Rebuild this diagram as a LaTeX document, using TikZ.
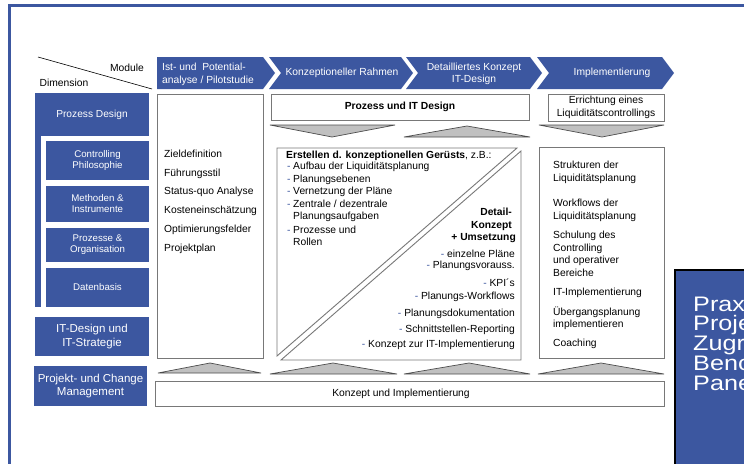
\documentclass[tikz,border=0pt]{standalone}
\usepackage{fontspec}
\setmainfont{Liberation Sans}
\newfontfamily\bigfont[FakeStretch=1.2]{Liberation Sans}
\definecolor{dblue}{RGB}{60,87,160}
\definecolor{trigray}{RGB}{192,192,192}
\definecolor{bordgray}{RGB}{120,120,120}
\begin{document}
\begin{tikzpicture}[x=1pt,y=-1pt,
  txt/.style={font=\fontsize{10.3}{12.5}\selectfont, inner sep=0pt, text=black},
  wtxt/.style={txt, text=white},
  bbox/.style={fill=dblue, draw=none, text=white, inner sep=0pt, outer sep=0pt, align=center, anchor=north west},
  subtxt/.style={font=\fontsize{9.7}{11}\selectfont},
  bigtxt/.style={font=\fontsize{11.5}{13.5}\selectfont},
  wbox/.style={draw=bordgray, line width=0.9pt, fill=white, inner sep=0pt, outer sep=0pt, anchor=north west},
  tri/.style={draw=black!70, line width=0.7pt, fill=trigray, line join=miter},
  diag/.style={draw=bordgray, line width=0.9pt, fill=white, line join=miter},
]
\useasboundingbox (0,0) rectangle (744,463);
\clip (0,0) rectangle (744,463);
\fill[white] (0,0) rectangle (744,463);
% frame
\draw[dblue, line width=3pt] (9.5,470) -- (9.5,5.5) -- (750,5.5);

% header diagonal
\coordinate (dgA) at (38,57);
\coordinate (dgB) at (152,89);
\draw[black, line width=0.6pt] (dgA) -- (dgB);
\node[txt] (module) at (127,68) {Module};
\node[txt] (dimension) at (64,83) {Dimension};

% chevrons
\fill[dblue] (157,57) -- (263,57) -- (275,73) -- (263,89) -- (157,89) -- cycle;
\fill[dblue] (269,57) -- (401,57) -- (413,73) -- (401,89) -- (269,89) -- (281,73) -- cycle;
\fill[dblue] (406,57) -- (530,57) -- (542,73) -- (530,89) -- (406,89) -- (418,73) -- cycle;
\fill[dblue] (537,57) -- (662,57) -- (674,73) -- (662,89) -- (537,89) -- (549,73) -- cycle;
\node[wtxt, align=left, anchor=west] (m1) at (162,74.5) {Ist- und\ \ Potential-\\analyse / Pilotstudie};
\node[wtxt] (m2) at (342,73) {Konzeptioneller Rahmen};
\node[wtxt, align=center] (m3) at (474,74) {Detailliertes Konzept\\IT-Design};
\node[wtxt] (m4) at (612,73) {Implementierung};

% left blue column
\node[bbox, minimum width=114pt, minimum height=43pt, font=\fontsize{10.2}{12}\selectfont] (pd) at (35,93) {Prozess Design};
\fill[dblue] (35,93) rectangle (41,307);
\node[bbox, subtxt, minimum width=103pt, minimum height=39pt] (cp) at (46,141) {Controlling\\Philosophie};
\node[bbox, subtxt, minimum width=103pt, minimum height=36pt] (mi) at (46,186) {Methoden \&\\Instrumente};
\node[bbox, subtxt, minimum width=103pt, minimum height=34pt] (po) at (46,228) {Prozesse \&\\Organisation};
\node[bbox, subtxt, minimum width=103pt, minimum height=39pt] (db) at (46,268) {Datenbasis};
\node[bbox, bigtxt, minimum width=114pt, minimum height=39pt] (it) at (35,317) {IT-Design und\\IT-Strategie};
\node[bbox, bigtxt, minimum width=113pt, minimum height=40pt] (pc) at (34,366) {Projekt- und Change\\Management};

% column 1
\node[wbox, minimum width=106pt, minimum height=264pt] (col1) at (157,94) {};
\foreach \y/\t [count=\i] in {153.3/Zieldefinition, 172.3/Führungsstil, 191/Status-quo Analyse, 209.3/Kosteneinschätzung, 229/Optimierungsfelder, 247.3/Projektplan}
  \node[txt, anchor=base west] (c1-\i) at (164,\y+3.7) {\t};

% column 2/3 top
\node[wbox, minimum width=258pt, minimum height=26pt, font=\fontsize{10.3}{12}\selectfont\bfseries] (pit) at (271,94) {Prozess und IT Design};
\draw[tri] (270,125) -- (395,125) -- (332,137) -- cycle;
\draw[tri] (404,137) -- (530,137) -- (467,126) -- cycle;

% column 4 top
\node[wbox, minimum width=116pt, minimum height=27pt, align=center, font=\fontsize{10.3}{13.3}\selectfont] (err) at (548,94) {Errichtung eines\\Liquiditätscontrollings};
\draw[tri] (539,125) -- (664,125) -- (602,137) -- cycle;

% middle split box
\draw[diag] (517,148) -- (277,148) -- (277,356) -- cycle;
\draw[diag] (521,151) -- (521,360) -- (281,360) -- cycle;
\node[txt, anchor=base west] (erst) at (286,158.7) {\bfseries Erstellen d. konzeptionellen Gerüsts\mdseries, z.B.:};
\foreach \y/\t [count=\i] in {165.7/{Aufbau der Liquiditätsplanung}, 178.3/{Planungsebenen}, 190.7/{Vernetzung der Pläne}, 203.3/{Zentrale / dezentrale}, 216/{Planungsaufgaben}, 229.3/{Prozesse und}, 241.7/{Rollen}}
  \node[txt, anchor=base west] (l-\i) at (293,\y+3.7) {\t};
\foreach \y [count=\i] in {165.7, 178.3, 190.7, 203.3, 229.3}
  \node[txt, anchor=base west, text=dblue] (ld-\i) at (287,\y+3.7) {-};
\node[txt, anchor=base east, font=\fontsize{10.3}{12}\selectfont\bfseries] (dk1) at (512,211.7+3.7) {Detail-};
\node[txt, anchor=base east, font=\fontsize{10.3}{12}\selectfont\bfseries] (dk2) at (512,224.3+3.7) {Konzept};
\node[txt, anchor=base east, font=\fontsize{10.3}{12}\selectfont\bfseries] (dk3) at (516,236.7+3.7) {+ Umsetzung};
\foreach \y/\t [count=\i] in {253.3/{einzelne Pläne}, 265/{Planungsvorauss.}, 282.3/{KPI´s}, 296/{Planungs-Workflows}, 312.3/{Planungsdokumentation}, 328.3/{Schnittstellen-Reporting}, 343.3/{Konzept zur IT-Implementierung}}
  \node[txt, anchor=base east] (r-\i) at (515,\y+3.7) {{\color{dblue}-} \t};

% column 4 lower
\node[wbox, minimum width=125pt, minimum height=211pt] (col4) at (539,147) {};
\foreach \y/\t [count=\i] in {165/{Strukturen der}, 178/{Liquiditätsplanung}, 203/{Workflows der}, 216/{Liquiditätsplanung}, 235/{Schulung des}, 247.7/{Controlling}, 260/{und operativer}, 273/{Bereiche}, 292/{IT-Implementierung}, 311.7/{Übergangsplanung}, 324/{implementieren}, 343/{Coaching}}
  \node[txt, anchor=base west] (c4-\i) at (553,\y+3.7) {\t};

% bottom triangles
\draw[tri] (158,373) -- (261,373) -- (210,363) -- cycle;
\draw[tri] (270,374) -- (397,374) -- (333,363) -- cycle;
\draw[tri] (404,374) -- (530,374) -- (469,363) -- cycle;
\draw[tri] (538,374) -- (664,374) -- (601,363) -- cycle;

% bottom box
\node[wbox, minimum width=509pt, minimum height=25pt] (kui) at (155,381) {};
\node[txt] (kuitxt) at (401,394) {Konzept und Implementierung};

% overlay box
\node[fill=dblue, draw=black, line width=1.5pt, anchor=north west, minimum width=90pt, minimum height=210pt, inner sep=0pt] (ov) at (674,269) {};
\node[inner sep=0pt, anchor=base west, text=white, align=left, font=\bigfont\fontsize{21}{19.75}\selectfont] (ovtxt) at (693,390) {Prax\\Proje\\Zugr\\Benc\\Pane};
\end{tikzpicture}
\end{document}
